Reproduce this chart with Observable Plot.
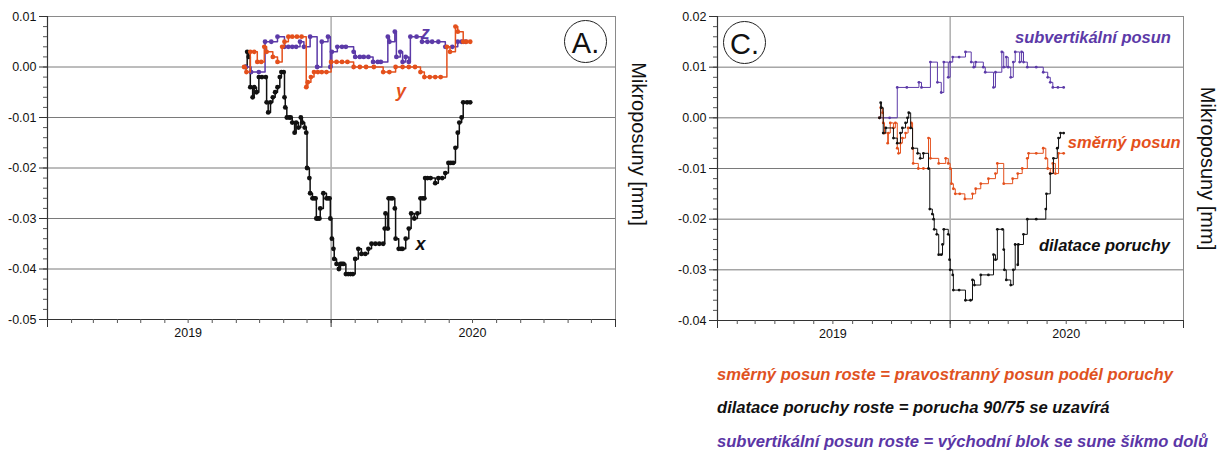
<!DOCTYPE html>
<html><head><meta charset="utf-8">
<script src="https://cdn.jsdelivr.net/npm/d3@7"></script>
<script src="https://cdn.jsdelivr.net/npm/@observablehq/plot@0.6"></script>
<style>
body{margin:0;background:#fff;font-family:"Liberation Sans",Arial,sans-serif;}
#wrap{position:relative;width:1220px;height:456px;overflow:hidden;background:#fff;}
#left{position:absolute;left:0;top:0;}
#right{position:absolute;left:660px;top:0;}
.badge{position:absolute;width:43px;height:43px;border:1.3px solid #222;border-radius:50%;font-size:29px;line-height:44px;text-align:center;color:#111;box-sizing:border-box;}
.cap{position:absolute;left:717px;font-weight:bold;font-style:italic;font-size:16.6px;white-space:nowrap;line-height:20px;}
</style></head>
<body>
<div id="wrap">
  <div id="left"></div>
  <div id="right"></div>
  <div class="badge" style="left:564px;top:20px">A.</div>
  <div class="badge" style="left:723px;top:21px">C.</div>
  <div class="cap" id="cap1" style="top:365px;color:#e0521f"></div>
  <div class="cap" id="cap2" style="top:398px;color:#111"></div>
  <div class="cap" id="cap3" style="top:432px;color:#5b36a6"></div>
</div>
<script>
// ---------- colours ----------
const ORANGE = "#e4501c", PURPLE = "#5c3aa8", BLACK = "#111111";

// ---------- axis ----------
const xStart = "2019-01-01", xEnd = "2021-01-01";
const yearBoundaries = ["2019-01-01", "2020-01-01", "2021-01-01"];
const yearLabelDates = ["2019-07-01", "2020-07-01"];
const yearLabels = ["2019", "2020"];
const midGridDate = ["2020-01-01"];
const leftYTicks = [0.01, 0.00, -0.01, -0.02, -0.03, -0.04, -0.05];
const rightYTicks = [0.02, 0.01, 0.00, -0.01, -0.02, -0.03, -0.04];
const yTitle = "Mikroposuny [mm]";

// ---------- panel A : x (black) ----------
const xDates = ["2019-09-13","2019-09-15","2019-09-17","2019-09-19","2019-09-22","2019-09-24","2019-09-27","2019-09-30","2019-10-04","2019-10-09","2019-10-10","2019-10-12","2019-10-15","2019-10-18","2019-10-21","2019-10-24","2019-10-27","2019-10-29","2019-11-01","2019-11-02","2019-11-03","2019-11-05","2019-11-08","2019-11-10","2019-11-12","2019-11-15","2019-11-17","2019-11-20","2019-11-23","2019-11-25","2019-11-28","2019-11-30","2019-12-01","2019-12-04","2019-12-05","2019-12-08","2019-12-10","2019-12-12","2019-12-13","2019-12-15","2019-12-17","2019-12-18","2019-12-22","2019-12-26","2019-12-28","2019-12-30","2019-12-31","2020-01-02","2020-01-04","2020-01-05","2020-01-08","2020-01-11","2020-01-13","2020-01-15","2020-01-17","2020-01-20","2020-01-23","2020-01-26","2020-01-29","2020-02-01","2020-02-05","2020-02-09","2020-02-14","2020-02-18","2020-02-22","2020-02-27","2020-03-03","2020-03-08","2020-03-10","2020-03-11","2020-03-14","2020-03-15","2020-03-18","2020-03-20","2020-03-23","2020-03-24","2020-03-28","2020-03-31","2020-04-02","2020-04-06","2020-04-10","2020-04-13","2020-04-17","2020-04-21","2020-04-25","2020-04-28","2020-04-30","2020-05-01","2020-05-04","2020-05-08","2020-05-14","2020-05-18","2020-05-23","2020-05-27","2020-05-31","2020-06-03","2020-06-06","2020-06-09","2020-06-12","2020-06-14","2020-06-17","2020-06-19","2020-06-24","2020-06-28"];
const xValues = [0.000,0.003,0.002,-0.004,-0.006,-0.004,-0.005,-0.002,-0.002,-0.002,-0.007,-0.009,-0.007,-0.006,-0.005,-0.004,-0.002,-0.001,-0.001,-0.006,-0.008,-0.010,-0.010,-0.010,-0.011,-0.013,-0.011,-0.012,-0.010,-0.011,-0.012,-0.013,-0.020,-0.022,-0.025,-0.026,-0.026,-0.026,-0.030,-0.030,-0.030,-0.028,-0.025,-0.026,-0.026,-0.026,-0.030,-0.034,-0.036,-0.038,-0.039,-0.040,-0.039,-0.039,-0.039,-0.041,-0.041,-0.041,-0.041,-0.038,-0.036,-0.037,-0.037,-0.036,-0.035,-0.035,-0.035,-0.035,-0.032,-0.029,-0.032,-0.026,-0.026,-0.026,-0.028,-0.034,-0.036,-0.036,-0.036,-0.034,-0.032,-0.029,-0.030,-0.029,-0.026,-0.026,-0.026,-0.022,-0.022,-0.022,-0.023,-0.022,-0.022,-0.021,-0.019,-0.019,-0.019,-0.016,-0.013,-0.011,-0.010,-0.007,-0.007,-0.007];

// ---------- panel A : y (orange) ----------
const yDates = ["2019-09-11","2019-09-14","2019-09-19","2019-09-24","2019-09-28","2019-10-03","2019-10-07","2019-10-10","2019-10-18","2019-10-24","2019-10-30","2019-11-02","2019-11-07","2019-11-12","2019-11-18","2019-11-24","2019-11-30","2019-12-02","2019-12-06","2019-12-10","2019-12-15","2019-12-20","2019-12-26","2020-01-01","2020-01-08","2020-01-15","2020-01-22","2020-01-30","2020-02-07","2020-02-15","2020-02-25","2020-03-08","2020-03-16","2020-03-24","2020-04-02","2020-04-10","2020-04-18","2020-04-25","2020-04-30","2020-05-07","2020-05-14","2020-05-21","2020-05-29","2020-06-02","2020-06-09","2020-06-12","2020-06-19","2020-06-23","2020-06-28"];
const yValues = [0.000,-0.001,0.003,0.003,0.001,0.001,0.004,0.003,0.002,0.001,0.004,0.005,0.006,0.006,0.006,0.006,-0.004,-0.003,-0.002,-0.001,-0.001,-0.001,-0.001,0.001,0.001,0.001,0.001,0.000,0.000,0.000,0.000,-0.001,-0.001,0.000,0.000,0.000,0.000,-0.001,-0.002,-0.002,-0.002,-0.002,0.004,0.003,0.008,0.007,0.005,0.005,0.005];

// ---------- panel A : z (purple) ----------
const zDates = ["2019-09-13","2019-09-20","2019-09-30","2019-10-08","2019-10-16","2019-10-24","2019-11-02","2019-11-07","2019-11-12","2019-11-17","2019-11-22","2019-11-27","2019-12-05","2019-12-14","2019-12-20","2019-12-28","2019-12-31","2020-01-02","2020-01-09","2020-01-15","2020-01-20","2020-01-30","2020-02-01","2020-02-07","2020-02-12","2020-02-18","2020-02-24","2020-03-01","2020-03-05","2020-03-14","2020-03-16","2020-03-23","2020-03-25","2020-03-30","2020-04-02","2020-04-06","2020-04-10","2020-04-12","2020-04-20","2020-04-27","2020-05-04","2020-05-10","2020-05-18","2020-05-27","2020-06-05","2020-06-12","2020-06-17","2020-06-22"];
const zValues = [0.000,-0.001,-0.001,0.005,0.005,0.006,0.004,0.004,0.004,0.004,0.005,0.004,0.006,0.000,0.005,0.006,0.000,0.003,0.004,0.004,0.004,0.003,0.002,0.002,0.002,0.002,0.001,0.001,0.001,0.006,0.005,0.007,0.002,0.003,0.001,0.002,0.001,0.006,0.006,0.005,0.005,0.005,0.005,0.004,0.004,0.005,0.005,0.005];

// ---------- panel C : subvertikální posun (purple) ----------
const svDates = ["2019-09-12","2019-09-28","2019-10-10","2019-10-25","2019-11-13","2019-11-17","2019-12-01","2019-12-12","2019-12-18","2019-12-22","2019-12-29","2020-01-01","2020-01-05","2020-01-15","2020-01-25","2020-02-03","2020-02-07","2020-02-10","2020-02-22","2020-02-25","2020-03-09","2020-03-12","2020-03-22","2020-03-25","2020-03-29","2020-04-01","2020-04-05","2020-04-09","2020-04-12","2020-04-19","2020-04-22","2020-04-25","2020-05-01","2020-05-15","2020-05-26","2020-06-02","2020-06-06","2020-06-10","2020-06-18","2020-06-27"];
const svValues = [0.000,0.000,0.006,0.006,0.007,0.006,0.011,0.007,0.005,0.011,0.008,0.011,0.012,0.012,0.013,0.011,0.010,0.011,0.010,0.009,0.006,0.009,0.013,0.010,0.012,0.010,0.008,0.011,0.013,0.011,0.013,0.011,0.010,0.010,0.009,0.008,0.007,0.006,0.006,0.006];

// ---------- panel C : směrný posun (orange) ----------
const smDates = ["2019-09-12","2019-09-14","2019-09-17","2019-09-18","2019-09-20","2019-09-25","2019-09-26","2019-09-29","2019-10-04","2019-10-07","2019-10-10","2019-10-12","2019-10-15","2019-10-18","2019-10-23","2019-10-27","2019-11-01","2019-11-03","2019-11-04","2019-11-12","2019-11-20","2019-11-28","2019-12-01","2019-12-14","2019-12-25","2019-12-29","2020-01-01","2020-01-03","2020-01-06","2020-01-09","2020-01-16","2020-01-24","2020-02-05","2020-02-10","2020-02-18","2020-03-01","2020-03-12","2020-03-15","2020-03-25","2020-04-08","2020-04-16","2020-04-23","2020-05-01","2020-05-03","2020-05-15","2020-05-26","2020-05-30","2020-06-02","2020-06-06","2020-06-10","2020-06-14","2020-06-19","2020-06-27"];
const smValues = [0.000,0.002,0.001,-0.001,-0.003,-0.005,-0.003,-0.001,-0.002,-0.001,-0.006,-0.007,-0.005,-0.004,-0.003,-0.002,-0.001,-0.006,-0.009,-0.010,-0.010,-0.004,-0.008,-0.009,-0.008,-0.009,-0.010,-0.013,-0.014,-0.015,-0.015,-0.016,-0.015,-0.014,-0.013,-0.012,-0.011,-0.009,-0.013,-0.012,-0.011,-0.010,-0.008,-0.007,-0.007,-0.006,-0.008,-0.010,-0.011,-0.009,-0.011,-0.007,-0.007];

// ---------- panel C : dilatace poruchy (black) ----------
const dlDates = ["2019-09-12","2019-09-14","2019-09-15","2019-09-18","2019-09-22","2019-10-04","2019-10-10","2019-10-15","2019-10-18","2019-10-23","2019-10-26","2019-10-28","2019-10-31","2019-11-03","2019-11-11","2019-11-15","2019-11-20","2019-11-28","2019-11-30","2019-12-04","2019-12-06","2019-12-07","2019-12-11","2019-12-14","2019-12-18","2019-12-20","2019-12-22","2019-12-29","2019-12-31","2020-01-01","2020-01-05","2020-01-06","2020-01-15","2020-01-25","2020-02-02","2020-02-05","2020-02-08","2020-02-18","2020-03-01","2020-03-09","2020-03-12","2020-03-15","2020-03-23","2020-03-25","2020-03-26","2020-03-29","2020-04-05","2020-04-09","2020-04-12","2020-04-16","2020-04-17","2020-04-25","2020-05-01","2020-05-15","2020-05-30","2020-05-31","2020-06-06","2020-06-11","2020-06-17","2020-06-19","2020-06-22","2020-06-27"];
const dlValues = [0.000,0.003,0.002,-0.003,-0.002,-0.004,-0.005,-0.003,-0.002,-0.001,0.000,0.001,-0.002,-0.006,-0.007,-0.008,-0.007,-0.010,-0.018,-0.019,-0.020,-0.022,-0.023,-0.027,-0.027,-0.025,-0.022,-0.023,-0.028,-0.030,-0.031,-0.034,-0.034,-0.036,-0.036,-0.032,-0.033,-0.031,-0.031,-0.027,-0.028,-0.022,-0.022,-0.026,-0.030,-0.032,-0.033,-0.030,-0.025,-0.029,-0.025,-0.023,-0.020,-0.020,-0.018,-0.015,-0.011,-0.008,-0.006,-0.004,-0.003,-0.003];

// ---------- annotations ----------
const leftNoteText = ["z", "y", "x"];
const leftNoteDates = ["2020-05-01", "2020-03-31", "2020-04-25"];
const leftNoteValues = [0.0066, -0.0047, -0.0351];
const leftNoteColors = [PURPLE, ORANGE, BLACK];

const rightNoteText = ["subvertikální posun", "směrný posun", "dilatace poruchy"];
const rightNoteDates = ["2020-08-12", "2020-09-30", "2020-08-30"];
const rightNoteValues = [0.0158, -0.0049, -0.0253];
const rightNoteColors = [PURPLE, ORANGE, BLACK];

const captions = [
  "směrný posun roste = pravostranný posun podél poruchy",
  "dilatace poruchy roste = porucha 90/75 se uzavírá",
  "subvertikální posun roste = východní blok se sune šikmo dolů"
];

// ---------- helpers ----------
const D = s => new Date(s + "T00:00:00Z");
const rows = (dates, values) => dates.map((d, i) => ({date: D(d), value: values[i]}));
const notes = (texts, dates, values, colors) => texts.map((t, i) => ({text: t, date: D(dates[i]), value: values[i], color: colors[i]}));
const FONT = "Liberation Sans, Arial, Helvetica, sans-serif";

function panel({width, marginLeft, marginRight, marginBottom, yTicks, series, noteRows, lineW, dotR, noteSize, titleDx, titleDy}) {
  const yDomain = [d3.min(yTicks), d3.max(yTicks)];
  const minorY = d3.range(Math.round(yDomain[0] * 500), Math.round(yDomain[1] * 500) + 1).map(k => k / 500);
  const months = d3.utcMonth.range(D(xStart), d3.utcDay.offset(D(xEnd), 1));
  const seriesMarks = series.flatMap(s => [
    Plot.line(s.data, {x: "date", y: "value", stroke: s.color, strokeWidth: lineW, curve: "step-after"}),
    Plot.dot(s.data, {x: "date", y: "value", fill: s.color, r: dotR, stroke: "none"})
  ]);
  return Plot.plot({
    width, height: 346,
    marginLeft, marginRight, marginTop: 16, marginBottom,
    style: {fontFamily: FONT, fontSize: "12px", background: "transparent", color: "#111", overflow: "visible"},
    x: {type: "utc", domain: [D(xStart), D(xEnd)]},
    y: {domain: yDomain},
    marks: [
      Plot.ruleY(yTicks, {stroke: "#7a7a7a", strokeWidth: 1}),
      Plot.ruleX(midGridDate.map(D), {stroke: "#b3b3b3", strokeWidth: 1.6}),
      Plot.frame({stroke: "#8a8a8a"}),
      Plot.ruleY([yDomain[0]], {stroke: "#333", strokeWidth: 1.2}),
      Plot.ruleX([D(xStart)], {stroke: "#333", strokeWidth: 1.2}),
      Plot.axisY(minorY, {tickSize: 4, tickFormat: () => "", label: null, stroke: "#555"}),
      Plot.axisY(yTicks, {tickSize: 8, tickPadding: 3, tickFormat: d => d.toFixed(2), label: null, fontSize: 12.5, stroke: "#333"}),
      Plot.axisX(months, {tickSize: 4, tickFormat: () => "", label: null, stroke: "#555"}),
      Plot.axisX(yearBoundaries.map(D), {tickSize: 8, tickFormat: () => "", label: null, stroke: "#333"}),
      Plot.axisX(yearLabelDates.map(D), {tickSize: 0, tickPadding: 9, label: null, fontSize: 12.5,
        tickFormat: d => yearLabels[yearLabelDates.findIndex(s => +D(s) === +d)]}),
      ...seriesMarks,
      Plot.text(noteRows, {x: "date", y: "value", text: "text", fill: "color", fontSize: noteSize, fontWeight: "bold", fontStyle: "italic"}),
      Plot.text([yTitle], {frameAnchor: "right", textAnchor: "middle", rotate: 90, dx: titleDx, dy: titleDy, fontSize: 20, fill: "#111"})
    ]
  });
}

const leftChart = panel({
  width: 660, marginLeft: 47, marginRight: 45, marginBottom: 27,
  yTicks: leftYTicks,
  series: [
    {data: rows(xDates, xValues), color: BLACK},
    {data: rows(zDates, zValues), color: PURPLE},
    {data: rows(yDates, yValues), color: ORANGE}
  ],
  noteRows: notes(leftNoteText, leftNoteDates, leftNoteValues, leftNoteColors),
  lineW: 1.5, dotR: 2.4, noteSize: 18, titleDx: 23, titleDy: -24
});
document.getElementById("left").append(leftChart);

const rightChart = panel({
  width: 560, marginLeft: 57, marginRight: 37, marginBottom: 26,
  yTicks: rightYTicks,
  series: [
    {data: rows(svDates, svValues), color: PURPLE},
    {data: rows(smDates, smValues), color: ORANGE},
    {data: rows(dlDates, dlValues), color: BLACK}
  ],
  noteRows: notes(rightNoteText, rightNoteDates, rightNoteValues, rightNoteColors),
  lineW: 1, dotR: 1.4, noteSize: 16.5, titleDx: 24, titleDy: 0
});
document.getElementById("right").append(rightChart);

document.getElementById("cap1").textContent = captions[0];
document.getElementById("cap2").textContent = captions[1];
document.getElementById("cap3").textContent = captions[2];
</script>
</body></html>
